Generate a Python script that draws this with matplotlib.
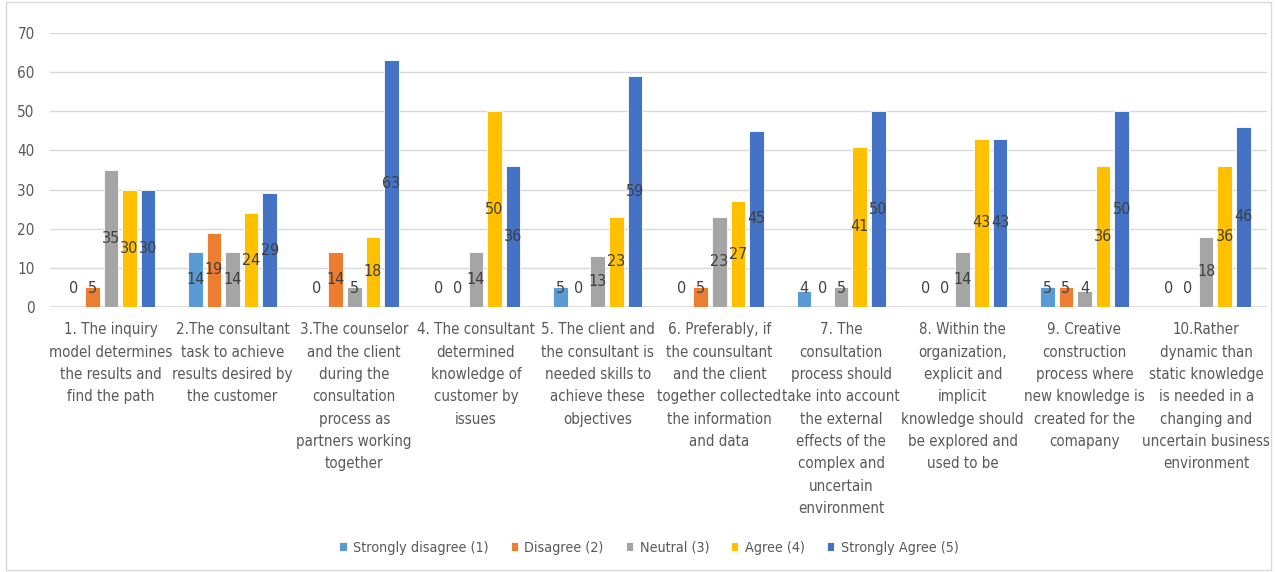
import numpy as np
import matplotlib.pyplot as plt
import matplotlib.patches as patches
from matplotlib import font_manager

# prefer a narrow face for the long category labels
faces = [(f.name, f.stretch) for f in font_manager.fontManager.ttflist]
if any(n == 'Liberation Sans Narrow' for n, s in faces):
    plt.rcParams['font.family'] = ['Liberation Sans Narrow', 'DejaVu Sans']
elif any(n == 'DejaVu Sans' and s == 'condensed' for n, s in faces):
    plt.rcParams['font.family'] = ['DejaVu Sans']
    plt.rcParams['font.stretch'] = 'condensed'
else:
    plt.rcParams['font.family'] = ['Lato', 'DejaVu Sans']

# Survey statements (wrapped as they appear under each group)
categories = [
    "1. The inquiry\nmodel determines\nthe results and\nfind the path",
    "2.The consultant\ntask to achieve\nresults desired by\nthe customer",
    "3.The counselor\nand the client\nduring the\nconsultation\nprocess as\npartners working\ntogether",
    "4. The consultant\ndetermined\nknowledge of\ncustomer by\nissues",
    "5. The client and\nthe consultant is\nneeded skills to\nachieve these\nobjectives",
    "6. Preferably, if\nthe counsultant\nand the client\ntogether collected\nthe information\nand data",
    "7. The\nconsultation\nprocess should\ntake into account\nthe external\neffects of the\ncomplex and\nuncertain\nenvironment",
    "8. Within the\norganization,\nexplicit and\nimplicit\nknowledge should\nbe explored and\nused to be",
    "9. Creative\nconstruction\nprocess where\nnew knowledge is\ncreated for the\ncomapany",
    "10.Rather\ndynamic than\nstatic knowledge\nis needed in a\nchanging and\nuncertain business\nenvironment",
]

series_names = ["Strongly disagree (1)", "Disagree (2)", "Neutral (3)",
                "Agree (4)", "Strongly Agree (5)"]
strongly_disagree = [0, 14, 0, 0, 5, 0, 4, 0, 5, 0]
disagree = [5, 19, 14, 0, 0, 5, 0, 0, 5, 0]
neutral = [35, 14, 5, 14, 13, 23, 5, 14, 4, 18]
agree = [30, 24, 18, 50, 23, 27, 41, 43, 36, 36]
strongly_agree = [30, 29, 63, 36, 59, 45, 50, 43, 50, 46]

series = [strongly_disagree, disagree, neutral, agree, strongly_agree]
colors = ['#5B9BD5', '#ED7D31', '#A5A5A5', '#FFC000', '#4472C4']

fig = plt.figure(figsize=(12.75, 5.72), dpi=100)
ax = fig.add_axes([50/1275, 1 - 307/572, 1217/1275, 274/572])

x = np.arange(len(categories))
step = 0.153
width = 0.12
for k, (vals, col, name) in enumerate(zip(series, colors, series_names)):
    pos = x + (k - 2) * step
    ax.bar(pos, vals, width, color=col, edgecolor='white', linewidth=0.6,
           label=name, zorder=3)
    for px, v in zip(pos, vals):
        ax.text(px, max(v / 2, 4.8), str(v), ha='center', va='center',
                fontsize=11.5, color='#404040', zorder=4)

ax.set_ylim(0, 70)
ax.set_xlim(-0.5, len(categories) - 0.5)
ax.set_yticks(range(0, 71, 10))
ax.yaxis.grid(True, color='#D9D9D9', linewidth=1, zorder=0)
ax.axhline(0, color='#D9D9D9', linewidth=1.2, zorder=2)
for s in ax.spines.values():
    s.set_visible(False)
ax.tick_params(axis='both', length=0, colors='#595959', labelsize=11)
ax.tick_params(axis='y', pad=11)
ax.set_xticks(x)
ax.set_xticklabels(categories, fontsize=10.8, color='#595959',
                   linespacing=1.61, va='top')
ax.tick_params(axis='x', pad=11)

leg = fig.legend(loc='center', bbox_to_anchor=(0.509, 0.042), ncol=5,
                 frameon=False, fontsize=10.3, handlelength=0.5,
                 handleheight=0.6, handletextpad=0.45, columnspacing=1.55)
for t in leg.get_texts():
    t.set_color('#595959')

# thin frame around the whole chart area
fig.patches.append(patches.Rectangle((0.005, 0.003), 0.992, 0.994,
                                     transform=fig.transFigure, fill=False,
                                     edgecolor='#D9D9D9', linewidth=1))

fig.savefig('out.png', dpi=100, facecolor='white')
